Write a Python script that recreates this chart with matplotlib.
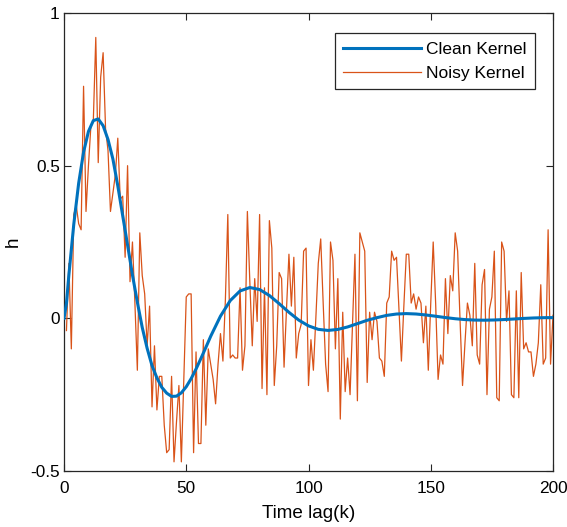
import matplotlib
matplotlib.use("Agg")
import matplotlib.pyplot as plt

plt.rcParams['font.family'] = ['Liberation Sans', 'DejaVu Sans']

# Clean kernel
clean_k = [0, 1, 2, 4, 6, 8, 10, 12, 14, 16, 18, 20, 22, 24, 26, 28, 30, 32, 34, 36, 38,
           40, 42, 44, 46, 48, 50, 52, 54, 56, 58, 60, 64, 68, 72, 76, 80, 84, 88, 92, 96,
           100, 104, 108, 112, 116, 120, 124, 128, 132, 136, 140, 144, 148, 152, 156, 160,
           164, 168, 172, 176, 180, 184, 188, 192, 196, 200]
clean_h = [0.0, 0.049, 0.1425, 0.3081, 0.4427, 0.5442, 0.6121, 0.6476, 0.6530, 0.6309,
           0.5857, 0.5218, 0.434, 0.3365, 0.240, 0.142, 0.053, -0.030, -0.098, -0.155,
           -0.195, -0.226, -0.245, -0.2557, -0.2549, -0.2439, -0.2241, -0.1975, -0.1660,
           -0.1314, -0.0957, -0.0587, 0.0072, 0.0582, 0.0897, 0.1009, 0.0943, 0.0748,
           0.0481, 0.0197, -0.0057, -0.0247, -0.0361, -0.0396, -0.0363, -0.0282, -0.0174,
           -0.0064, 0.0022, 0.0097, 0.0141, 0.0155, 0.0142, 0.0110, 0.0069, 0.0025,
           -0.0013, -0.0041, -0.0057, -0.0061, -0.0054, -0.0040, -0.0022, -0.0003, 0.0012,
           0.0021, 0.0024]

# Noisy kernel, k = 1..200
noisy_k = list(range(1, 201))
noisy_h = [
    -0.04, 0.18, -0.10, 0.34, 0.37, 0.31, 0.29, 0.76, 0.35, 0.50,
    0.63, 0.65, 0.92, 0.51, 0.79, 0.87, 0.62, 0.55, 0.35, 0.41,
    0.47, 0.59, 0.39, 0.40, 0.20, 0.50, 0.12, 0.25, 0.05, -0.17,
    0.28, 0.14, 0.08, -0.09, 0.04, -0.29, -0.09, -0.30, -0.19, -0.19,
    -0.35, -0.44, -0.43, -0.19, -0.47, -0.34, -0.22, -0.47, -0.20, 0.07,
    0.08, 0.08, -0.44, -0.11, -0.41, -0.41, -0.07, -0.35, -0.10, -0.15,
    -0.20, -0.28, -0.15, -0.05, -0.14, 0.06, 0.34, -0.13, -0.12, -0.13,
    -0.13, 0.10, -0.17, -0.09, 0.35, 0.12, -0.09, 0.13, -0.01, 0.34,
    -0.23, 0.10, -0.25, 0.32, 0.23, -0.22, -0.09, 0.15, 0.13, -0.16,
    0.03, 0.21, 0.04, 0.20, -0.13, -0.05, -0.02, 0.22, 0.23, -0.22,
    -0.07, -0.17, 0.00, 0.18, 0.26, 0.05, -0.15, -0.24, 0.25, 0.19,
    -0.10, 0.13, -0.33, 0.02, -0.24, -0.13, -0.25, -0.02, 0.21, -0.27,
    0.28, 0.25, 0.22, -0.21, 0.02, -0.07, 0.02, -0.01, -0.13, -0.14,
    -0.19, 0.05, 0.07, 0.22, 0.19, 0.20, 0.03, -0.14, 0.04, 0.21,
    0.21, 0.05, 0.08, 0.03, 0.07, 0.05, -0.08, 0.04, -0.17, 0.05,
    0.25, 0.05, -0.20, -0.12, -0.15, 0.13, -0.05, 0.14, 0.09, 0.28,
    0.22, -0.01, -0.22, -0.08, 0.05, 0.01, -0.09, 0.18, -0.12, -0.15,
    0.11, 0.16, -0.25, 0.03, 0.07, 0.22, -0.26, -0.27, 0.25, 0.22,
    -0.01, 0.09, -0.25, -0.26, 0.09, -0.26, 0.15, -0.10, -0.08, -0.11,
    -0.11, -0.19, -0.15, -0.08, 0.11, -0.15, -0.13, 0.29, -0.15, 0.01,
]

x_ticks = [0, 50, 100, 150, 200]
y_ticks = [-0.5, 0, 0.5, 1]
y_tick_labels = ['-0.5', '0', '0.5', '1']

BLUE = '#0072BD'
ORANGE = '#D95319'
DARK = '#262626'

fig = plt.figure(figsize=(5.67, 5.27), dpi=100)
ax = fig.add_axes([64 / 567, 1 - 471 / 527, 489 / 567, 458 / 527])

l1, = ax.plot(clean_k, clean_h, color=BLUE, lw=2.2, zorder=3, label='Clean Kernel')
l2, = ax.plot(noisy_k, noisy_h, color=ORANGE, lw=0.9, zorder=2, label='Noisy Kernel')

ax.set_xlim(0, 200)
ax.set_ylim(-0.5, 1)
ax.set_xticks(x_ticks)
ax.set_yticks(y_ticks)
ax.set_yticklabels(y_tick_labels)
ax.tick_params(direction='in', length=5, width=0.8, colors=DARK, labelsize=12.4,
               top=True, right=True, labelcolor='black')
ax.tick_params(axis='x', pad=7.5)
ax.tick_params(axis='y', pad=3)
for s in ax.spines.values():
    s.set_color(DARK)
    s.set_linewidth(0.9)

ax.set_xlabel('Time lag(k)', fontsize=13.6, labelpad=6.5)
ax.set_ylabel('h', fontsize=13.6, labelpad=6)

leg = ax.legend(handles=[l1, l2], loc='upper right',
                bbox_to_anchor=((535 - 64) / 489, (471 - 33) / 458),
                borderaxespad=0, fontsize=12.5, handlelength=4.5, handletextpad=0.25,
                labelspacing=0.5, fancybox=False, framealpha=1, borderpad=0.5)
leg.get_frame().set_edgecolor(DARK)
leg.get_frame().set_linewidth(0.9)

fig.savefig('out.png', dpi=100)
